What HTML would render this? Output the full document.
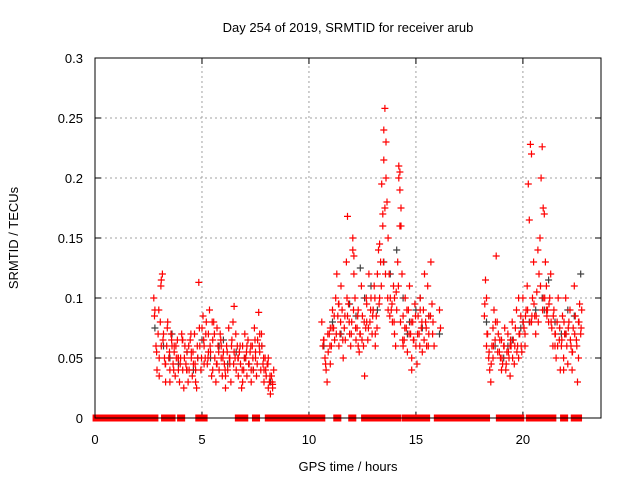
<!DOCTYPE html>
<html><head><meta charset="utf-8"><style>
html,body{margin:0;padding:0;background:#fff;}
svg{display:block;font-family:"Liberation Sans",sans-serif;}
</style></head><body>
<svg id="chart" width="640" height="480" viewBox="0 0 640 480">
<rect width="640" height="480" fill="#fff"/>
<text x="348" y="32" font-size="13" text-anchor="middle">Day 254 of 2019, SRMTID for receiver arub</text>
<text transform="translate(18,238) rotate(-90)" font-size="13" text-anchor="middle">SRMTID / TECUs</text>
<text x="348" y="471" font-size="13" text-anchor="middle">GPS time / hours</text>
<g id="grid"></g>
<g id="ticks"></g>
<g id="marks"></g>
<rect x="95" y="58" width="506" height="360" fill="none" stroke="#000" stroke-width="1"/>
</svg>
<script>
const xTicks=[0,5,10,15,20];
const yTicks=[0,0.05,0.1,0.15,0.2,0.25,0.3];
const yTickLabels=["0","0.05","0.1","0.15","0.2","0.25","0.3"];
const zeroSegments=[[0.05,2.8],[3.25,3.6],[4.0,4.05],[4.85,5.1],[6.7,7.0],[7.5,7.55],[8.1,8.3],[8.5,10.6],[11.3,11.35],[12.0,12.05],[12.6,13.5],[13.8,13.85],[14.1,14.15],[14.5,15.5],[16.0,18.3],[18.9,19.9],[20.3,21.4],[21.9,21.95],[22.4,22.6]];
const redT=[2.75,2.8,2.85,2.9,2.95,3.0,3.05,3.1,3.15,3.2,3.25,3.3,3.35,3.4,3.45,3.5,3.55,3.6,3.65,3.7,3.75,3.8,3.85,3.9,3.95,4.0,4.05,4.1,4.15,4.2,4.25,4.3,4.35,4.4,4.45,4.5,4.55,4.6,4.65,4.7,4.75,4.8,4.85,4.9,4.95,5.0,5.05,5.1,5.15,5.2,5.25,5.3,5.35,5.4,5.45,5.5,5.55,5.6,5.65,5.7,5.75,5.8,5.85,5.9,5.95,6.0,6.05,6.1,6.15,6.2,6.25,6.3,6.35,6.4,6.45,6.5,6.55,6.6,6.65,6.7,6.75,6.8,6.85,6.9,6.95,7.0,7.05,7.1,7.15,7.2,7.25,7.3,7.35,7.4,7.45,7.5,7.55,7.6,7.65,7.7,7.75,7.8,7.85,7.9,7.95,8.0,8.05,8.1,8.15,8.2,8.25,8.3,8.35,
3.0,3.1,3.3,3.5,3.7,3.9,4.1,4.3,4.5,4.7,4.9,5.1,5.3,5.5,5.7,5.9,6.1,6.3,6.5,6.7,6.9,7.1,7.3,7.5,7.7,7.9,8.1,8.3,
2.78,2.88,2.98,3.08,3.18,3.28,3.38,3.48,3.58,3.68,3.78,3.88,3.98,4.08,4.18,4.28,4.38,4.48,4.58,4.68,4.78,4.88,4.98,5.08,5.18,5.28,5.38,5.48,5.58,5.68,5.78,5.88,5.98,6.08,6.18,6.28,6.38,6.48,6.58,6.68,6.78,6.88,6.98,7.08,7.18,7.28,7.38,7.48,7.58,7.68,7.78,7.88,7.98,8.08,8.18,8.28,
10.6,10.65,10.7,10.75,10.8,10.85,10.9,10.95,11.0,11.05,11.1,11.15,11.2,11.25,11.3,11.35,11.4,11.45,11.5,11.55,11.6,11.65,11.7,11.75,11.8,11.85,11.9,11.95,12.0,12.05,12.1,12.15,12.2,12.25,12.3,12.35,12.4,12.45,12.5,12.55,12.6,12.65,12.7,12.75,12.8,12.85,12.9,12.95,13.0,13.05,13.1,13.15,13.2,13.25,13.3,13.35,13.4,13.45,13.5,13.55,13.6,13.65,13.7,13.75,13.8,13.85,13.9,13.95,14.0,14.05,14.1,14.15,14.2,14.25,14.3,14.35,14.4,14.45,14.5,14.55,14.6,14.65,14.7,14.75,14.8,14.85,14.9,14.95,15.0,15.05,15.1,15.15,15.2,15.25,15.3,15.35,15.4,15.45,15.5,15.55,15.6,15.7,15.75,15.8,15.85,16.1,16.15,
13.5,13.45,13.6,13.55,14.2,14.25,14.3,14.25,13.3,12.05,12.1,11.0,11.4,11.8,12.3,12.7,13.1,13.7,14.0,14.4,14.8,15.2,15.6,
10.68,10.78,10.88,10.98,11.08,11.18,11.28,11.38,11.48,11.58,11.68,11.78,11.88,11.98,12.08,12.18,12.28,12.38,12.48,12.58,12.68,12.78,12.88,12.98,13.08,13.18,13.28,13.38,13.48,13.58,13.68,13.78,13.88,13.98,14.08,14.18,14.28,14.38,14.48,14.58,14.68,14.78,14.88,14.98,15.08,15.18,15.28,15.38,15.48,15.58,15.68,15.78,
18.2,18.25,18.3,18.35,18.4,18.45,18.5,18.55,18.6,18.65,18.7,18.75,18.8,18.85,18.9,18.95,19.0,19.05,19.1,19.15,19.2,19.25,19.3,19.35,19.4,19.45,19.5,19.55,19.6,19.65,19.7,19.75,19.8,19.85,19.9,19.95,20.0,20.05,20.1,20.15,20.2,20.25,20.3,20.35,20.4,20.45,20.5,20.55,20.6,20.65,20.7,20.75,20.8,20.85,20.9,20.95,21.0,21.05,21.1,21.15,21.2,21.25,21.3,21.35,21.4,21.45,21.5,21.55,21.6,21.65,21.7,21.75,21.8,21.85,21.9,21.95,22.0,22.05,22.1,22.15,22.2,22.25,22.3,22.35,22.4,22.45,22.5,22.55,22.6,22.65,22.7,22.75,
18.3,18.6,19.0,19.4,19.8,20.1,20.4,20.95,21.1,21.5,21.9,22.3,22.6,
18.22,18.32,18.42,18.52,18.62,18.72,18.82,18.92,19.02,19.12,19.22,19.32,19.42,19.52,19.62,19.72,19.82,19.92,20.02,20.12,20.22,20.32,20.42,20.52,20.62,20.72,20.82,20.92,21.02,21.12,21.22,21.32,21.42,21.52,21.62,21.72,21.82,21.92,22.02,22.12,22.22,22.32,22.42,22.52,22.62,22.72];
const redV=[.10,.09,.06,.04,.07,.05,.08,.115,.12,.07,.05,.03,.06,.08,.05,.04,.07,.06,.045,.055,.035,.05,.065,.04,.03,.05,.07,.04,.025,.06,.045,.055,.03,.04,.065,.05,.035,.045,.07,.04,.025,.05,.113,.06,.04,.075,.085,.06,.05,.08,.045,.07,.09,.055,.035,.065,.08,.05,.03,.045,.06,.04,.07,.05,.035,.055,.045,.025,.06,.04,.075,.05,.03,.065,.08,.093,.05,.04,.06,.035,.055,.045,.025,.06,.04,.07,.05,.035,.065,.045,.055,.03,.06,.04,.075,.05,.035,.065,.088,.055,.04,.06,.045,.03,.05,.035,.045,.025,.03,.02,.035,.028,.04,
.035,.06,.045,.03,.06,.05,.065,.04,.055,.03,.06,.045,.055,.04,.075,.06,.035,.045,.055,.05,.03,.06,.04,.055,.07,.04,.05,.025,
.085,.055,.09,.11,.065,.045,.075,.055,.065,.04,.06,.05,.045,.065,.05,.04,.06,.07,.055,.045,.06,.075,.05,.065,.07,.05,.06,.08,.07,.045,.055,.065,.05,.04,.055,.05,.06,.045,.07,.05,.06,.04,.05,.055,.045,.06,.05,.065,.045,.06,.07,.05,.04,.045,.035,.03,
.08,.06,.065,.05,.04,.03,.055,.07,.045,.06,.09,.075,.065,.1,.12,.085,.06,.07,.11,.09,.05,.075,.065,.13,.168,.095,.07,.06,.08,.14,.12,.1,.065,.075,.09,.055,.07,.11,.085,.06,.035,.075,.095,.065,.12,.08,.1,.07,.09,.11,.06,.085,.12,.14,.1,.13,.195,.16,.24,.258,.23,.18,.15,.12,.1,.09,.08,.11,.07,.06,.09,.13,.21,.19,.16,.12,.085,.065,.1,.075,.055,.09,.11,.07,.05,.08,.065,.095,.06,.045,.085,.07,.1,.075,.055,.09,.12,.08,.06,.11,.07,.13,.095,.08,.06,.09,.075,
.215,.17,.2,.175,.2,.205,.175,.16,.145,.15,.135,.075,.095,.085,.06,.08,.07,.09,.1,.06,.04,.09,.085,
.065,.045,.07,.06,.075,.085,.07,.095,.08,.065,.085,.1,.08,.07,.09,.075,.085,.07,.065,.08,.1,.075,.09,.085,.1,.075,.095,.11,.13,.12,.1,.085,.095,.08,.105,.11,.08,.065,.075,.09,.07,.08,.065,.085,.07,.06,.08,.065,.075,.06,.085,.07,
.085,.115,.1,.07,.05,.04,.03,.06,.075,.09,.065,.135,.08,.07,.055,.05,.065,.045,.06,.075,.04,.055,.07,.05,.035,.06,.08,.065,.045,.075,.09,.06,.1,.07,.085,.055,.1,.075,.06,.09,.11,.195,.165,.228,.22,.1,.13,.085,.07,.105,.14,.12,.15,.2,.226,.175,.17,.13,.11,.09,.08,.1,.12,.075,.06,.09,.07,.05,.08,.1,.065,.04,.06,.085,.05,.07,.1,.06,.045,.08,.09,.06,.04,.075,.11,.085,.065,.03,.05,.095,.07,.09,
.06,.05,.04,.06,.05,.07,.08,.1,.09,.06,.04,.055,.08,
.095,.07,.055,.045,.06,.08,.055,.065,.05,.06,.045,.055,.065,.05,.06,.055,.07,.06,.08,.085,.09,.08,.085,.095,.085,.08,.11,.09,.1,.085,.095,.08,.085,.07,.06,.075,.065,.08,.07,.075,.065,.055,.07,.06,.08,.075];
const darkT=[2.8,3.2,3.5,3.9,4.3,4.6,5.0,5.4,5.8,6.2,6.6,7.0,7.4,7.8,8.2,10.7,11.1,11.5,11.9,12.2,12.6,12.9,13.2,13.5,13.8,14.1,14.4,14.7,15.0,15.3,15.6,16.1,18.3,18.7,19.1,19.5,19.9,20.3,20.6,20.9,21.2,21.5,21.8,22.1,22.4,22.7,3.6,4.8,6.0,7.2,12.4,13.0,14.6,15.2,19.3,20.0,21.0,22.0];
const darkV=[.075,.06,.05,.045,.055,.04,.065,.05,.06,.045,.055,.05,.04,.06,.03,.06,.08,.07,.095,.085,.1,.11,.09,.13,.12,.14,.1,.08,.09,.075,.085,.07,.08,.06,.05,.065,.075,.08,.09,.1,.115,.08,.07,.09,.085,.12,.07,.05,.065,.045,.125,.09,.07,.1,.06,.08,.09,.07];
const X0=95,X1=601,XMAX=23.65,Y0=418,Y1=58,YMAX=0.3;
const xs=t=>X0+(X1-X0)*t/XMAX, ys=v=>Y0-(Y0-Y1)*v/YMAX;
const NS="http://www.w3.org/2000/svg";
const grid=document.getElementById('grid'),ticks=document.getElementById('ticks'),marks=document.getElementById('marks');
function mk(tag,attrs,parent){const e=document.createElementNS(NS,tag);for(const k in attrs)e.setAttribute(k,attrs[k]);parent.appendChild(e);return e;}
xTicks.forEach(t=>{const x=xs(t);
 if(t>0){const g=mk('line',{x1:x,x2:x,y1:Y0,y2:Y1,stroke:'#a0a0a0','stroke-dasharray':'2,3'},grid);
 
 }
 const tk=mk('path',{d:`M${x},${Y0}v-6M${x},${Y1}v6`,stroke:'#000'},ticks);
 
 
 const l=mk('text',{x:x,y:444,'font-size':13,'text-anchor':'middle'},ticks);l.textContent=String(t);
 
 });
yTicks.forEach((v,i)=>{const y=ys(v);
 if(v>0&&v<YMAX){const g=mk('line',{x1:X0,x2:X1,y1:y,y2:y,stroke:'#a0a0a0','stroke-dasharray':'2,3'},grid);
 
 }
 const tk=mk('path',{d:`M${X0},${y}h6M${X1},${y}h-6`,stroke:'#000'},ticks);
 
 
 const l=mk('text',{x:83,y:y+5,'font-size':13,'text-anchor':'end'},ticks);l.textContent=yTickLabels[i];
 
 });
function plusPath(T,V){let d='';for(let i=0;i<T.length;i++){const x=xs(T[i]),y=ys(V[i]);d+=`M${(x-3.5).toFixed(1)},${y.toFixed(1)}h7M${x.toFixed(1)},${(y-3.5).toFixed(1)}v7`;}return d;}
const dk=mk('path',{d:plusPath(darkT,darkV),stroke:'#404040','stroke-width':1.2,fill:'none'},marks);


const rd=mk('path',{d:plusPath(redT,redV),stroke:'#ff0000','stroke-width':1.2,fill:'none'},marks);


zeroSegments.forEach(s=>{const a=xs(s[0])-3.5,b=xs(s[1])+3.5;
 const r=mk('rect',{x:a,y:Y0-3.5,width:b-a,height:7,fill:'#ff0000'},marks);
 
 });
</script>
</body></html>
